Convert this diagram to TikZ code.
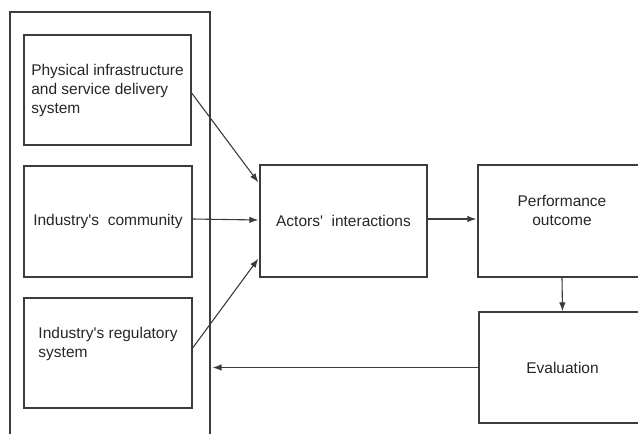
\documentclass[tikz,border=0pt]{standalone}
\usepackage{fontspec}
\setmainfont{Liberation Sans}[Ligatures=TeXOff]
\usetikzlibrary{arrows.meta,calc}
\definecolor{edge}{HTML}{3C3C3C}
\definecolor{ink}{HTML}{262626}
\tikzset{
  box/.style={draw=edge, line width=1.3pt, rectangle, inner sep=0pt, align=left,
    text=ink, font=\fontsize{15.5}{19}\selectfont},
  flow/.style={draw=edge, line width=1.1pt, -{Latex[length=9pt,width=6.5pt]}}
}
\begin{document}
\begin{tikzpicture}[x=1pt,y=-1pt]
\useasboundingbox (0,0) rectangle (638,434);
% enclosing frame of the three actor groups (open below the page edge)
\node[draw=edge, line width=1.1pt, minimum width=200pt, minimum height=440pt, inner sep=0pt]
  (frame) at (110,232) {};
% actor groups
\node[box, minimum width=167pt, minimum height=110pt] (infra) at (107.5,90)
  {Physical infrastructure\\and service delivery\\system};
\node[box, minimum width=168pt, minimum height=111pt] (comm) at (108,221.5)
  {Industry's\ \ community};
\node[box, minimum width=168pt, minimum height=110pt] (reg) at (108,353)
  {Industry's regulatory\\system\\[3pt]};
% process chain
\node[box, align=center, minimum width=167pt, minimum height=112pt] (act) at (343.5,221)
  {Actors'\ \ interactions};
\node[box, align=center, minimum width=168pt, minimum height=112pt] (perf) at (562,221)
  {Performance\\outcome\\[2pt]};
\node[box, align=center, minimum width=167pt, minimum height=111pt] (eval) at (562.5,367.5)
  {Evaluation};
% connectors
\draw[flow] ($(infra.east)+(0,3)$) -- ($(act.north west)+(-1,18)$);
\draw[flow] ($(comm.east)+(0,-2.5)$) -- ($(act.west)+(-1,-1)$);
\draw[flow] ($(reg.east)+(0,-5)$) -- ($(act.south west)+(-1,-19)$);
\draw[flow] ($(act.east)+(0,-2)$) -- ($(perf.west)+(-1,-2)$);
\draw[flow] (perf.south) -- (eval.north);
\draw[flow] (eval.west) -- ($(frame.east |- eval.west)+(2,0)$);
\end{tikzpicture}
\end{document}
